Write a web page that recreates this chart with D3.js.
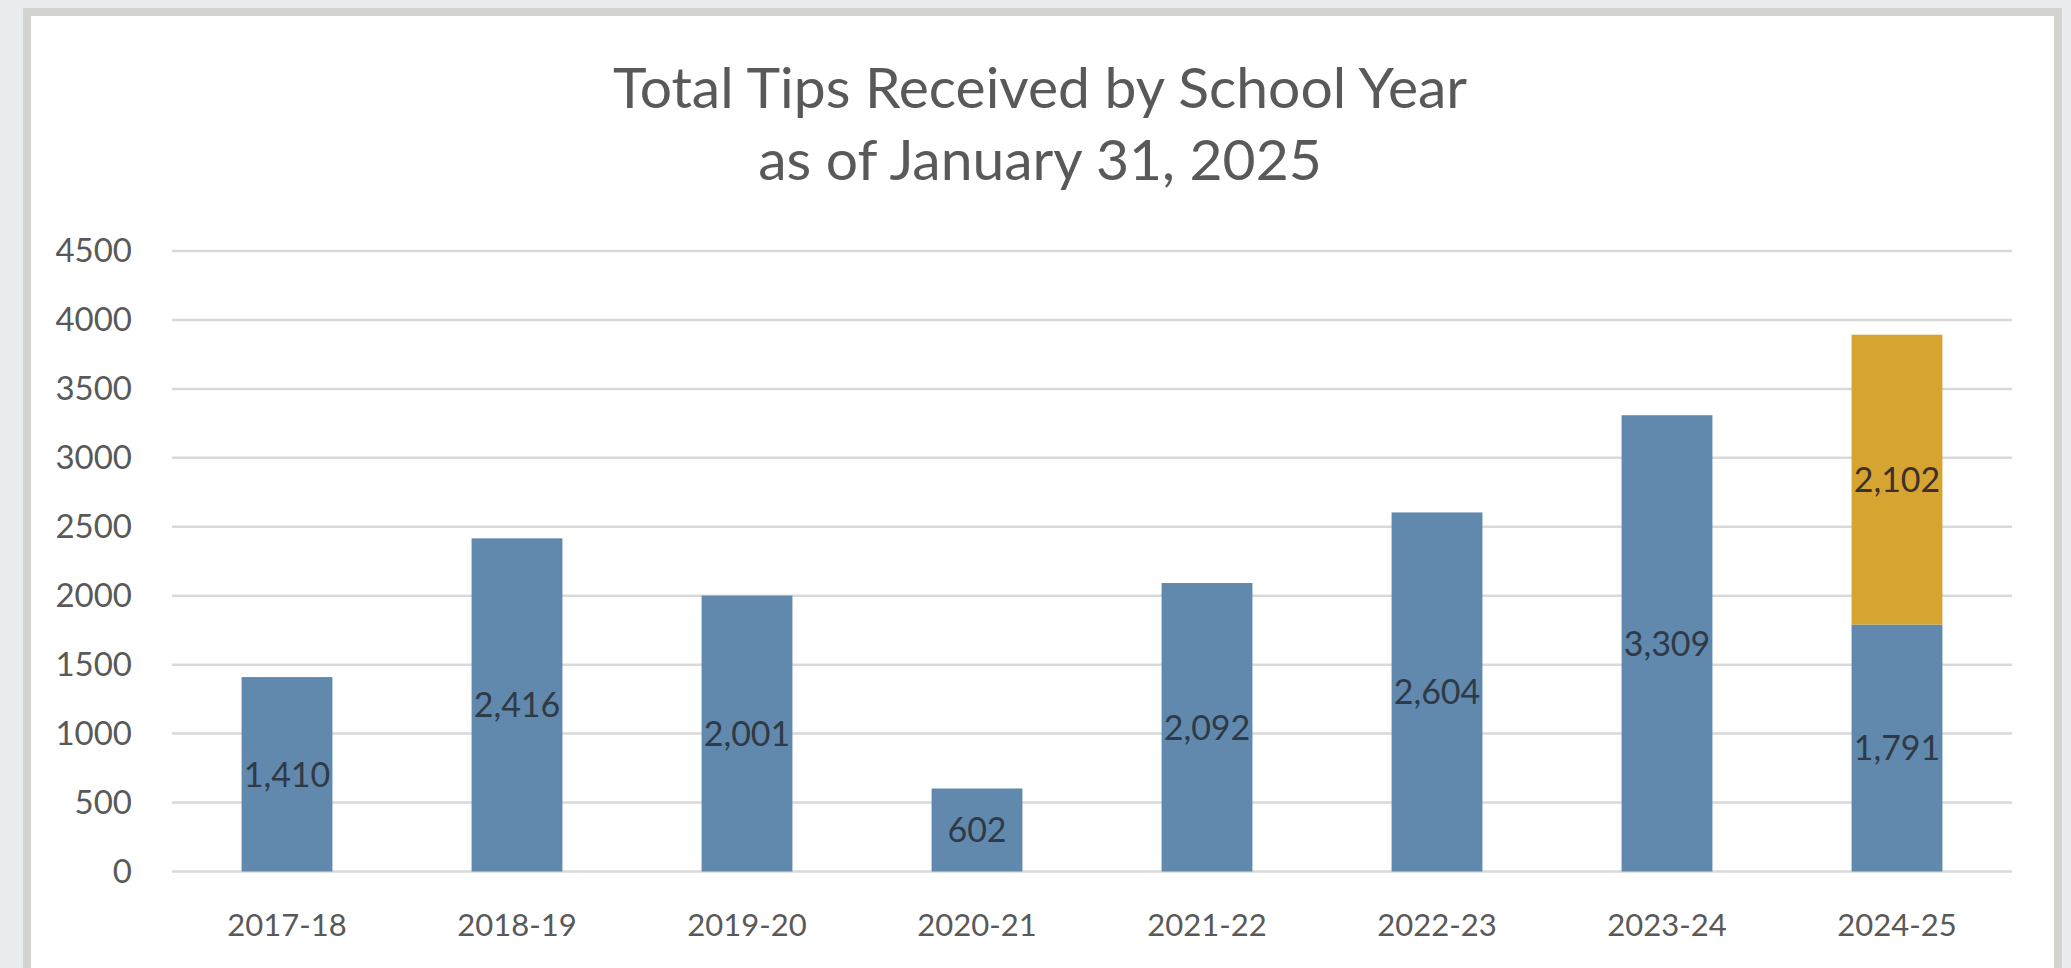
<!DOCTYPE html>
<html>
<head>
<meta charset="utf-8">
<script src="https://cdn.jsdelivr.net/npm/d3@7/dist/d3.min.js"></script>
<style>
  html, body { margin: 0; padding: 0; background: #eceef0; }
  svg { display: block; }
</style>
</head>
<body>
<script>
// ---- Data ----
const categories = ["2017-18", "2018-19", "2019-20", "2020-21", "2021-22", "2022-23", "2023-24", "2024-25"];
const baseValues = [1410, 2416, 2001, 602, 2092, 2604, 3309, 1791];
const addedValues = [0, 0, 0, 0, 0, 0, 0, 2102];
const yTicks = [0, 500, 1000, 1500, 2000, 2500, 3000, 3500, 4000, 4500];
const titleLines = ["Total Tips Received by School Year", "as of January 31, 2025"];

const W = 2071, H = 968;
const font = "Lato, 'Open Sans', sans-serif";
const textColor = "#595959";
const blue = "#6089ad";
const gold = "#d6a431";

const svg = d3.select("body").append("svg").attr("width", W).attr("height", H);

// page background & frame
svg.append("rect").attr("x", 0).attr("y", 0).attr("width", W).attr("height", H).attr("fill", "#e9edf0");
svg.append("rect").attr("x", 27).attr("y", 12).attr("width", 2031).attr("height", H)
  .attr("fill", "#ffffff").attr("stroke", "#d3d4cf").attr("stroke-width", 8);

// scales
const plot = { left: 172, right: 2012, top: 251, bottom: 871.5 };
const x = d3.scaleBand().domain(categories).range([plot.left, plot.right])
  .paddingInner(0.605).paddingOuter(0.3025);
const y = d3.scaleLinear().domain([0, 4500]).range([plot.bottom, plot.top]);

// gridlines
svg.append("g").selectAll("line").data(yTicks).join("line")
  .attr("x1", plot.left).attr("x2", plot.right)
  .attr("y1", d => y(d)).attr("y2", d => y(d))
  .attr("stroke", "#d9d9d9").attr("stroke-width", 2.5);

// y axis labels
const yAxis = d3.axisLeft(y).tickValues(yTicks).tickSize(0).tickPadding(0).tickFormat(d3.format("d"));
const gy = svg.append("g").attr("transform", `translate(${plot.left - 40},0)`).call(yAxis);
gy.select(".domain").remove();
gy.selectAll("text").attr("font-family", font).attr("font-size", 33).attr("fill", textColor);

// x axis labels
const xAxis = d3.axisBottom(x).tickSize(0).tickPadding(0);
const gx = svg.append("g").attr("transform", `translate(0,${plot.bottom + 42})`).call(xAxis);
gx.select(".domain").remove();
gx.selectAll("text").attr("font-family", font).attr("font-size", 31).attr("fill", textColor);

// stacked data
const rows = categories.map((c, i) => ({ cat: c, base: baseValues[i], added: addedValues[i] }));
const stack = d3.stack().keys(["base", "added"])(rows);
const colors = { base: blue, added: gold };
const labelColors = { base: "#2f3a46", added: "#3d2f2a" };
const fmt = d3.format(",");

const layers = svg.append("g").selectAll("g").data(stack).join("g")
  .attr("fill", d => colors[d.key]);
layers.selectAll("rect").data(d => d.map(p => ({ p, key: d.key }))).join("rect")
  .filter(d => d.p[1] - d.p[0] > 0)
  .attr("x", d => x(d.p.data.cat))
  .attr("width", x.bandwidth())
  .attr("y", d => y(d.p[1]))
  .attr("height", d => y(d.p[0]) - y(d.p[1]));

// labels
const labelData = [];
stack.forEach(layer => layer.forEach(p => {
  const v = p[1] - p[0];
  if (v > 0) labelData.push({ cat: p.data.cat, mid: (p[0] + p[1]) / 2, v, key: layer.key });
}));
svg.append("g").selectAll("text").data(labelData).join("text")
  .attr("x", d => x(d.cat) + x.bandwidth() / 2)
  .attr("y", d => y(d.mid))
  .attr("dy", "0.36em")
  .attr("text-anchor", "middle")
  .attr("font-family", font).attr("font-size", 34)
  .attr("fill", d => labelColors[d.key])
  .text(d => fmt(d.v));

// title
svg.append("g").selectAll("text").data(titleLines).join("text")
  .attr("x", 1040)
  .attr("y", (d, i) => 108 + i * 72)
  .attr("text-anchor", "middle")
  .attr("font-family", font).attr("font-size", 57)
  .attr("fill", textColor)
  .text(d => d);
</script>
</body>
</html>
